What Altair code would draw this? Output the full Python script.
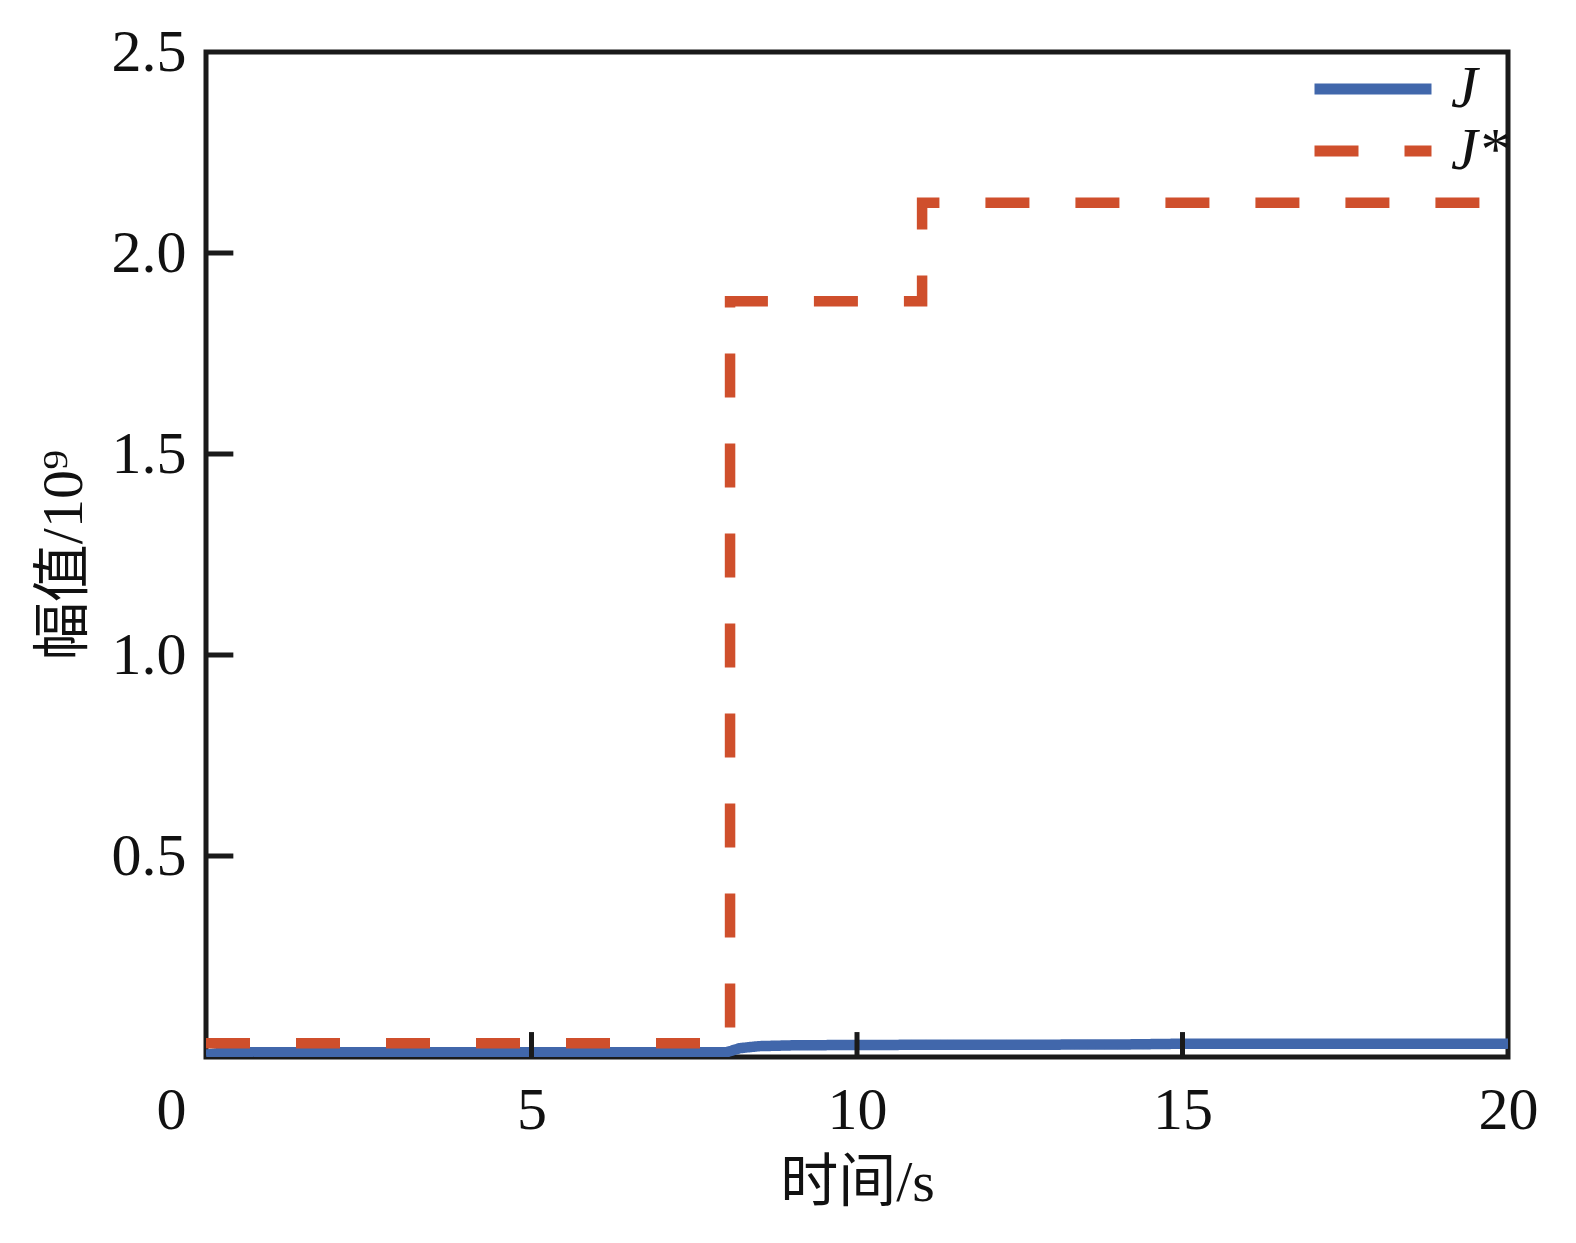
import pandas as pd
import altair as alt

j_time = [0, 0.3, 8.0, 8.2, 8.5, 9.0, 10.0, 14.0, 15.0, 20.0]
j_value = [0.006, 0.012, 0.012, 0.022, 0.027, 0.029, 0.030, 0.031, 0.033, 0.033]

jstar_time = [0, 8.05, 8.05, 11.0, 11.0, 20.0]
jstar_value = [0.034, 0.034, 1.88, 1.88, 2.125, 2.125]

x_ticks = [0, 5, 10, 15, 20]
y_ticks = [0.5, 1.0, 1.5, 2.0, 2.5]
inner_x_ticks = [5, 10, 15]
inner_y_ticks = [0.5, 1.0, 1.5, 2.0]

serif = "Liberation Serif, Noto Sans CJK SC"

lines = pd.concat([
    pd.DataFrame({"t": j_time, "v": j_value, "series": "J", "order": range(len(j_time))}),
    pd.DataFrame({"t": jstar_time, "v": jstar_value, "series": "J*", "order": range(len(jstar_time))}),
])

x_scale = alt.Scale(domain=[0, 20], nice=False, zero=False)
y_scale = alt.Scale(domain=[0, 2.5], nice=False)

# same axis settings for every layer so the merged axes keep them
# the "0" label sits left of the corner, like in the original figure
x_axis = alt.Axis(values=x_ticks, ticks=False, domain=False, grid=False, format="d",
                  labelOffset={"condition": {"test": "datum.value == 0", "value": -35},
                               "value": 0},
                  labelFlush=False, labelPadding=24, titlePadding=14)
y_axis = alt.Axis(values=y_ticks, ticks=False, domain=False, grid=False,
                  format=".1f", labelPadding=20, titlePadding=18)
x_title = "时间/s"
y_title = "幅值/10⁹"

line_chart = alt.Chart(lines).mark_line(strokeWidth=10.5, clip=True, strokeCap="butt").encode(
    x=alt.X("t:Q", scale=x_scale, title=x_title, axis=x_axis),
    y=alt.Y("v:Q", scale=y_scale, title=y_title, axis=y_axis),
    color=alt.Color("series:N",
                    scale=alt.Scale(domain=["J", "J*"], range=["#4167ab", "#cf4f2c"]),
                    legend=alt.Legend(title=None, orient="none", legendX=1103, legendY=8,
                                      symbolType="stroke", symbolSize=13689,
                                      symbolStrokeWidth=11, clipHeight=58, rowPadding=2,
                                      labelFont="Liberation Serif", labelFontSize=60,
                                      labelFontStyle="italic", labelOffset=14)),
    strokeDash=alt.StrokeDash("series:N",
                              scale=alt.Scale(domain=["J", "J*"], range=[[1, 0], [44, 46]]),
                              legend=None),
    order="order:Q",
)

xt = pd.DataFrame({"x": inner_x_ticks, "y0": 0.0, "y1": 0.062})
x_tick_marks = alt.Chart(xt).mark_rule(color="#1a1a1a", strokeWidth=5).encode(
    x=alt.X("x:Q", scale=x_scale, title=x_title, axis=x_axis),
    y=alt.Y("y0:Q", scale=y_scale, title=y_title, axis=y_axis),
    y2="y1:Q",
)

yt = pd.DataFrame({"y": inner_y_ticks, "x0": 0.0, "x1": 0.42})
y_tick_marks = alt.Chart(yt).mark_rule(color="#1a1a1a", strokeWidth=5).encode(
    y=alt.Y("y:Q", scale=y_scale, title=y_title, axis=y_axis),
    x=alt.X("x0:Q", scale=x_scale, title=x_title, axis=x_axis),
    x2="x1:Q",
)

chart = alt.layer(line_chart, x_tick_marks, y_tick_marks).properties(
    width=1302,
    height=1005,
    autosize=alt.AutoSizeParams(type="none"),
    padding={"left": 198, "top": 44, "right": 44, "bottom": 172},
).configure_view(
    stroke="#1a1a1a", strokeWidth=5
).configure_axis(
    labelFont="Liberation Serif", labelFontSize=60, labelColor="#111",
    titleFont=serif, titleFontSize=58, titleFontWeight="normal", titleColor="#111"
).configure_legend(
    labelColor="#111"
)

chart.save("out.html", embed_options={"renderer": "svg", "actions": False})
